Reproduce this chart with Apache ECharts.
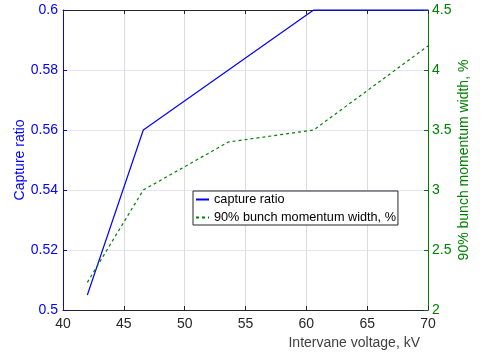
<!DOCTYPE html>
<html>
<head>
<meta charset="utf-8">
<script src="https://cdn.jsdelivr.net/npm/echarts@6/dist/echarts.min.js"></script>
<style>
  html, body { margin: 0; padding: 0; background: #fff; }
  #chart { width: 483px; height: 355px; }
</style>
</head>
<body>
<div id="chart"></div>
<script>
// data
const voltage = [42, 46.6, 53.6, 60.6, 70];
const captureRatio = [0.505, 0.56, 0.58, 0.6, 0.6];
const momentumWidth = [2.23, 3.0, 3.4, 3.5, 4.2];

const font = "Arial, 'Liberation Sans', sans-serif";
const blue = "#0000ff";
const green = "#008000";
const dark = "#262626";

const chart = echarts.init(document.getElementById("chart"));

// 繪製圖表
chart.setOption({
  animation: false,
  textStyle: { fontFamily: font },
  grid: { left: 63, right: 55, top: 10, bottom: 45, containLabel: false },
  legend: {
    orient: "vertical",
    left: 193,
    top: 191,
    padding: [2, 2, 1, 2],
    itemWidth: 13,
    itemHeight: 12,
    itemGap: 5,
    backgroundColor: "#fff",
    borderColor: dark,
    borderWidth: 1,
    // hide the symbol, keep the series line as the legend sample
    itemStyle: { opacity: 0 },
    textStyle: { fontFamily: font, fontSize: 12.7, color: "#000" },
    data: ["capture ratio", "90% bunch momentum width, %"]
  },
  xAxis: [
    {
      type: "value",
      min: 40,
      max: 70,
      interval: 5,
      name: "Intervane voltage, kV",
      nameLocation: "end",
      nameGap: -8,
      nameTextStyle: {
        fontFamily: font, fontSize: 14, color: "#404040",
        align: "right", verticalAlign: "top", padding: [26, 0, 0, 0]
      },
      axisLine: { lineStyle: { color: dark, width: 1 } },
      axisTick: { inside: true, length: 4, lineStyle: { color: dark } },
      axisLabel: { margin: 7, fontSize: 14, color: dark, fontFamily: font },
      splitLine: { show: true, lineStyle: { color: "#dcdcdc", width: 1 } }
    },
    {
      type: "value",
      position: "top",
      min: 40,
      max: 70,
      interval: 5,
      axisLine: { show: true, lineStyle: { color: dark, width: 1 } },
      axisTick: { show: true, inside: true, length: 4, lineStyle: { color: dark } },
      axisLabel: { show: false },
      splitLine: { show: false }
    }
  ],
  yAxis: [
    {
      type: "value",
      min: 0.5,
      max: 0.6,
      interval: 0.02,
      name: "Capture ratio",
      nameLocation: "middle",
      nameGap: 36,
      nameMoveOverlap: false,
      nameTextStyle: { fontFamily: font, fontSize: 14, color: blue },
      axisLine: { show: true, lineStyle: { color: blue, width: 1 } },
      axisTick: { show: true, inside: true, length: 4, lineStyle: { color: blue } },
      axisLabel: { margin: 5, fontSize: 14, color: blue, fontFamily: font },
      splitLine: { show: true, lineStyle: { color: "#e6e6fa", width: 1 } }
    },
    {
      type: "value",
      position: "right",
      min: 2,
      max: 4.5,
      interval: 0.5,
      name: "90% bunch momentum width, %",
      nameLocation: "middle",
      nameGap: 29,
      nameMoveOverlap: false,
      nameTextStyle: { fontFamily: font, fontSize: 14, color: green },
      axisLine: { show: true, lineStyle: { color: green, width: 1 } },
      axisTick: { show: true, inside: true, length: 4, lineStyle: { color: green } },
      axisLabel: { margin: 4, fontSize: 14, color: green, fontFamily: font },
      splitLine: { show: false }
    }
  ],
  series: [
    {
      name: "capture ratio",
      type: "line",
      xAxisIndex: 0,
      yAxisIndex: 0,
      symbol: "none",
      clip: false,
      lineStyle: { color: blue, width: 1.2 },
      itemStyle: { color: blue },
      data: voltage.map((v, i) => [v, captureRatio[i]])
    },
    {
      name: "90% bunch momentum width, %",
      type: "line",
      xAxisIndex: 0,
      yAxisIndex: 1,
      symbol: "none",
      clip: false,
      lineStyle: { color: green, width: 1.2, type: [3, 3] },
      itemStyle: { color: green },
      data: voltage.map((v, i) => [v, momentumWidth[i]])
    }
  ]
});
</script>
</body>
</html>
